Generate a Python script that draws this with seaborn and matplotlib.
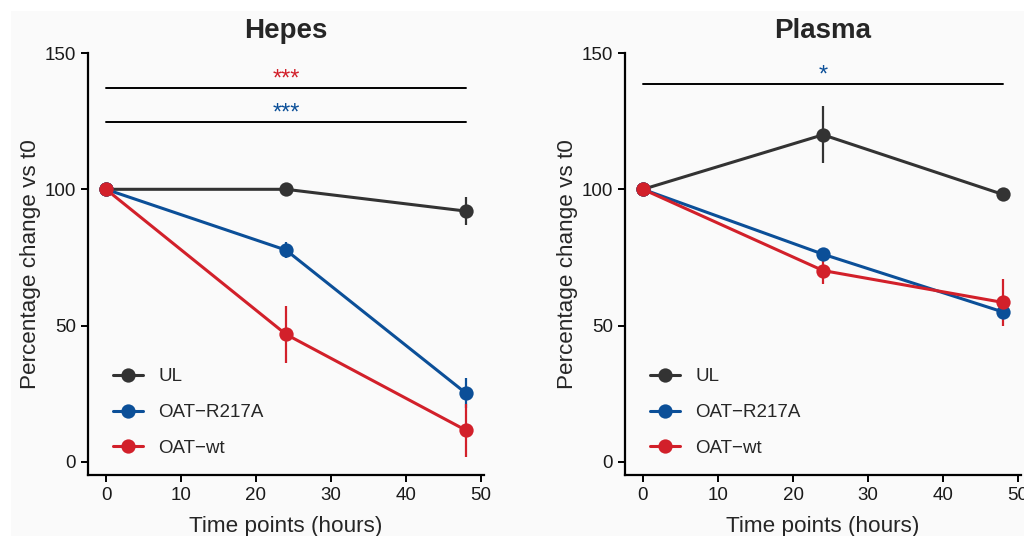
import matplotlib
matplotlib.use("Agg")
import matplotlib.pyplot as plt
import matplotlib.patches as mpatches
import seaborn as sns
import pandas as pd
import numpy as np

# ---- data ----
times = [0, 24, 48]
groups = ["UL", "OAT\u2212R217A", "OAT\u2212wt"]
colors = ["#333333", "#0b4f98", "#d2202a"]

hepes_ul = [100, 100, 92]
hepes_ul_err = [0, 1.5, 5]
hepes_r217a = [100, 77.7, 25.2]
hepes_r217a_err = [0, 3, 5.5]
hepes_wt = [100, 46.8, 11.6]
hepes_wt_err = [0, 10.5, 9.8]

plasma_ul = [100, 120, 98.1]
plasma_ul_err = [0, 10.4, 2]
plasma_r217a = [100, 76.2, 55.0]
plasma_r217a_err = [0, 1.5, 2.5]
plasma_wt = [100, 70.2, 58.5]
plasma_wt_err = [0, 5, 8.7]

panels = ["Hepes", "Plasma"]
yticks = [0, 50, 100, 150]
xticks = [0, 10, 20, 30, 40, 50]

# significance annotations: (y of line, label, colour)
hepes_sig = [(137.1, "***", "#d2202a"), (124.7, "***", "#0b4f98")]
plasma_sig = [(138.6, "*", "#0b4f98")]

rows = []
for panel, series in [("Hepes", [(hepes_ul, hepes_ul_err), (hepes_r217a, hepes_r217a_err), (hepes_wt, hepes_wt_err)]),
                      ("Plasma", [(plasma_ul, plasma_ul_err), (plasma_r217a, plasma_r217a_err), (plasma_wt, plasma_wt_err)])]:
    for g, (vals, errs) in zip(groups, series):
        for t, v, e in zip(times, vals, errs):
            rows.append(dict(panel=panel, group=g, time=t, value=v, err=e))
df = pd.DataFrame(rows)

sns.set_theme(style="ticks")
plt.rcParams["font.family"] = ["Liberation Sans", "DejaVu Sans"]

BG = "#fafafa"
fig = plt.figure(figsize=(10.24, 5.36), dpi=100, facecolor="white")
fig.patches.append(mpatches.Rectangle((11 / 1024, 0), 1, 1 - 11 / 536,
                                      transform=fig.transFigure, facecolor=BG,
                                      edgecolor="none", zorder=-10))

W, H = 1024, 536
ax_pos = [[88 / W, 1 - 475 / H, 396 / W, (475 - 53) / H],
          [625 / W, 1 - 475 / H, 396 / W, (475 - 53) / H]]
palette = dict(zip(groups, colors))

for pos, panel, sig in zip(ax_pos, panels, [hepes_sig, plasma_sig]):
    ax = fig.add_axes(pos)
    ax.set_facecolor(BG)
    sub = df[df.panel == panel]
    for g in groups:
        d = sub[sub.group == g]
        ax.errorbar(d.time, d.value, yerr=d.err, fmt="none", ecolor=palette[g],
                    elinewidth=1.6, capsize=0, zorder=2)
    sns.lineplot(data=sub, x="time", y="value", hue="group", hue_order=groups,
                 palette=palette, marker="o", markersize=10.3, markeredgewidth=0,
                 linewidth=2.2, ax=ax, legend=True, zorder=3)
    for y, lab, col in sig:
        ax.plot([0, 48], [y, y], color="black", lw=1.4, zorder=1)
        ax.text(24, y + 0.8, lab, color=col, ha="center", va="baseline", fontsize=17)
    ax.set_xlim(-2.4, 50.4)
    ax.set_ylim(-4.8, 150)
    ax.set_xticks(xticks)
    ax.set_yticks(yticks)
    ax.tick_params(labelsize=13.5, length=5, width=1.4, colors="black", labelcolor="#1a1a1a")
    for s in ["left", "bottom"]:
        ax.spines[s].set_linewidth(1.6)
        ax.spines[s].set_color("black")
    sns.despine(ax=ax)
    ax.set_title(panel, fontsize=20, fontweight="bold", pad=11)
    ax.set_xlabel("Time points (hours)", fontsize=16.2)
    ax.set_ylabel("Percentage change vs t0", fontsize=16.2)
    ax.yaxis.set_label_coords(-0.119, 0.5)
    ax.xaxis.set_label_coords(0.5, -0.097)
    leg = ax.legend(loc="lower left", frameon=False, fontsize=13.5, title=None,
                    bbox_to_anchor=(0.045, 0.025), handlelength=1.6, labelspacing=1.0,
                    borderaxespad=0.0, handletextpad=0.8)

fig.savefig("out.png", dpi=100, facecolor="white")
